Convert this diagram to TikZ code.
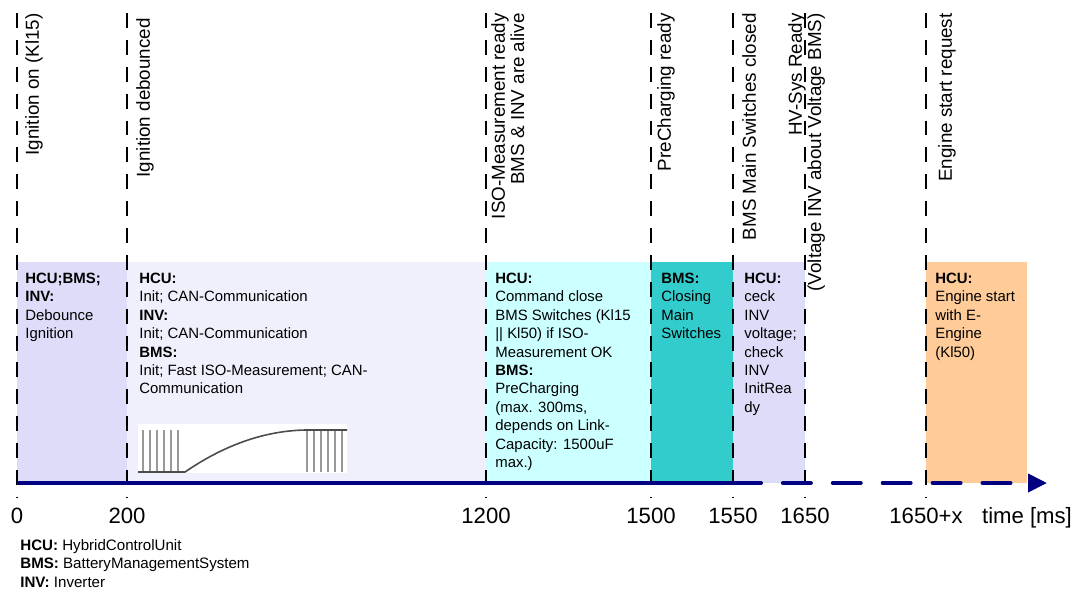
\documentclass[tikz,border=0pt]{standalone}
\usepackage{fontspec}
\setmainfont{Liberation Sans}
\usetikzlibrary{arrows.meta,positioning}

\definecolor{axisblue}{RGB}{0,0,128}
\definecolor{phaselav}{RGB}{221,221,250}
\definecolor{phasepale}{RGB}{240,240,252}
\definecolor{phasecyan}{RGB}{204,255,255}
\definecolor{phaseteal}{RGB}{51,204,204}
\definecolor{phaseorange}{RGB}{255,204,153}

\tikzset{
  event/.style={black, line width=1.1pt, dash pattern=on 8.5pt off 6.8pt},
  eventlabel/.style={rotate=90, anchor=north east, align=right, inner sep=0pt,
    font=\fontsize{10.7}{10.9}\selectfont},
  phasetext/.style={anchor=north west, align=left, inner sep=0pt,
    font=\fontsize{8.5}{10.5}\selectfont},
  ticklabel/.style={anchor=base, inner sep=0pt, font=\fontsize{12.6}{14}\selectfont},
  legendtext/.style={anchor=west, inner sep=0pt, font=\fontsize{8.6}{10}\selectfont},
  timeaxis/.style={axisblue, line width=2.3pt},
  wavebar/.style={black!40, line width=1.6pt},
  waveline/.style={black!70, line width=0.9pt}
}

\begin{document}
\begin{tikzpicture}[x=0.02cm,y=-0.02cm]

\newcommand{\phasebox}[3]{% x start, x end, colour
\fill[#3] (#1,262) rectangle (#2,483);
}

\useasboundingbox (0,0) rectangle (1077,589);

%phases
\phasebox{17}{127}{phaselav}
\phasebox{127}{486}{phasepale}
\phasebox{486}{651}{phasecyan}
\phasebox{651}{733}{phaseteal}
\phasebox{733}{805}{phaselav}
\phasebox{926}{1027}{phaseorange}

%event lines and time stamps
\foreach \n/\x/\t in {ign/17/0, deb/127/200, iso/486/1200, prech/651/1500,
                      sw/733/1550, hv/805/1650, eng/926/1650+x} {
  \coordinate (top\n) at (\x,13);
  \coordinate (bot\n) at (\x,497);
  \draw[event] (top\n) -- (bot\n);
  \node[ticklabel] (t\n) at (\x,523) {\t};
}
\node[ticklabel] (tunit) at (1027,523) {time [ms]};

%event names
\node[eventlabel] (ignlbl) at (25,13) {Ignition on (Kl15)};
\node[eventlabel] (deblbl) at (136,18) {Ignition debounced};
\node[eventlabel] (isolbl) at (491,13) {ISO-Measurement ready\\BMS \& INV are alive};
\node[eventlabel] (prechlbl) at (657,13) {PreCharging ready};
\node[eventlabel] (swlbl) at (742,13) {BMS Main Switches closed};
\node[eventlabel] (hvlbl) at (788,13) {HV-Sys Ready\\(Voltage INV about Voltage BMS)};
\node[eventlabel] (englbl) at (938,13) {Engine start request};

%debounce
\node[phasetext] (debtxt) at (25,272.5) {\textbf{HCU;BMS;}\\\textbf{INV:}\\Debounce\\Ignition};
%init
\node[phasetext] (inittxt) at (139,272.5) {\textbf{HCU:}\\Init; CAN-Communication\\\textbf{INV:}\\Init; CAN-Communication\\\textbf{BMS:}\\Init; Fast ISO-Measurement; CAN-\\Communication};
%precharging
\node[phasetext] (prechtxt) at (495,272.5) {\textbf{HCU:}\\Command close\\BMS Switches (Kl15\\|| Kl50) if ISO-\\Measurement OK\\\textbf{BMS:}\\PreCharging\\(max. 300ms,\\depends on Link-\\Capacity: 1500uF\\max.)};
%main switches
\node[phasetext] (swtxt) at (661,272.5) {\textbf{BMS:}\\Closing\\Main\\Switches};
%inverter check
\node[phasetext] (hvtxt) at (744,272.5) {\textbf{HCU:}\\ceck\\INV\\voltage;\\check\\INV\\InitRea\\dy};
%engine start
\node[phasetext] (engtxt) at (935,272.5) {\textbf{HCU:}\\Engine start\\with E-\\Engine\\(Kl50)};

%iso measurement signal
\fill[white] (138,424) rectangle (347,473);
\foreach \x in {143,150,...,178} \draw[wavebar] (\x,430) -- (\x,472);
\foreach \x in {307,314,...,342} \draw[wavebar] (\x,430) -- (\x,472);
\draw[waveline] (138,472) -- (185,472) .. controls (220,448) and (260,431) .. (305,430) -- (347,430);

%time axis
\coordinate (axstart) at (17,483);
\coordinate (axmid) at (733,483);
\coordinate (axend) at (1047,483);
\draw[timeaxis] (axstart) -- (axmid);
\draw[timeaxis, line cap=round, dash pattern=on 15.9pt off 12.5pt,
  -{Triangle[length=10.8pt,width=10.2pt]}] (axmid) -- (axend);

%legend
\node[legendtext] (leghcu) at (20,547) {\textbf{HCU:} HybridControlUnit};
\node[legendtext] (legbms) at (20,564.5) {\textbf{BMS:} BatteryManagementSystem};
\node[legendtext] (leginv) at (20,582) {\textbf{INV:} Inverter};

\end{tikzpicture}
\end{document}
